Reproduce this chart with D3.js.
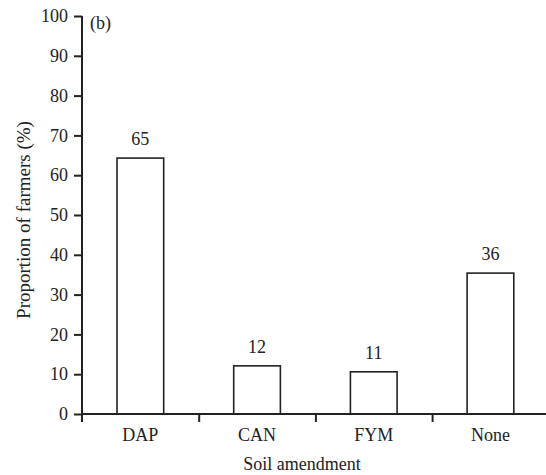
<!DOCTYPE html>
<html>
<head>
<meta charset="utf-8">
<script src="https://cdn.jsdelivr.net/npm/d3@7"></script>
<style>
  body { margin: 0; background: #fff; }
  svg text { font-family: "Times New Roman", "Liberation Serif", "DejaVu Serif", serif; fill: #222; }
</style>
</head>
<body>
<div id="chart"></div>
<script>
// soil amendment usage, panel (b)
const categories = ["DAP", "CAN", "FYM", "None"];
const values = [64.3, 12.1, 10.6, 35.4];
const labels = ["65", "12", "11", "36"];
const yTicks = [0, 10, 20, 30, 40, 50, 60, 70, 80, 90, 100];

const width = 546, height = 475;
const margin = { left: 82, top: 16, bottom: 61 };
const plotRight = margin.left + 4 * 116.7;
const serif = '"Times New Roman", "Liberation Serif", "DejaVu Serif", serif';
const fs = 18;

let svg = d3.select('#chart').append('svg')
  .attr('width', width)
  .attr('height', height)
  .attr('font-family', serif);

let y = d3.scaleLinear()
  .domain([0, 100])
  .range([height - margin.bottom, margin.top]);

let x = d3.scaleBand()
  .domain(categories)
  .range([margin.left, plotRight])
  .paddingInner(0.6)
  .paddingOuter(0.3);

// boundary ticks between categories
let xb = d3.scaleLinear()
  .domain([0, 4])
  .range([margin.left, plotRight]);

// bars
svg.selectAll('.bar')
  .data(values)
  .enter()
  .append('rect')
  .attr('x', (d, i) => x(categories[i]))
  .attr('y', d => y(d))
  .attr('width', x.bandwidth())
  .attr('height', d => y(0) - y(d))
  .attr('fill', '#fff')
  .attr('stroke', '#222')
  .attr('stroke-width', 1.6);

svg.selectAll('.val')
  .data(values)
  .enter()
  .append('text')
  .attr('x', (d, i) => x(categories[i]) + x.bandwidth() / 2)
  .attr('y', d => y(d) - 13)
  .attr('text-anchor', 'middle')
  .attr('font-size', fs)
  .text((d, i) => labels[i]);

// y axis
let yAxis = svg.append('g')
  .attr('transform', `translate(${margin.left},0)`)
  .call(d3.axisLeft(y).tickValues(yTicks).tickSize(8).tickSizeOuter(0).tickPadding(6));
yAxis.attr('font-family', serif).attr('font-size', fs);
yAxis.select('.domain').remove();
yAxis.append('line')
  .attr('x1', 0).attr('x2', 0)
  .attr('y1', y(100)).attr('y2', y(0) + 8)
  .attr('stroke', '#222').attr('stroke-width', 2);
yAxis.selectAll('.tick line').attr('stroke', '#222').attr('stroke-width', 2);
yAxis.selectAll('.tick text').attr('fill', '#222');

// x axis
let xAxis = svg.append('g')
  .attr('transform', `translate(0,${y(0)})`)
  .call(d3.axisBottom(xb).tickValues([1, 2, 3]).tickSize(8).tickSizeOuter(0).tickFormat(''));
xAxis.select('.domain').remove();
xAxis.append('line')
  .attr('x1', margin.left).attr('x2', width)
  .attr('y1', 0).attr('y2', 0)
  .attr('stroke', '#222').attr('stroke-width', 2);
xAxis.selectAll('.tick line').attr('stroke', '#222').attr('stroke-width', 2);

svg.selectAll('.xlab')
  .data(categories)
  .enter()
  .append('text')
  .attr('x', d => x(d) + x.bandwidth() / 2)
  .attr('y', y(0) + 27)
  .attr('text-anchor', 'middle')
  .attr('font-size', fs)
  .text(d => d);

// axis titles
svg.append('text')
  .attr('x', 302)
  .attr('y', 470)
  .attr('text-anchor', 'middle')
  .attr('font-size', fs)
  .text('Soil amendment');

svg.append('text')
  .attr('transform', 'translate(30,220) rotate(-90)')
  .attr('text-anchor', 'middle')
  .attr('font-size', 19)
  .text('Proportion of farmers (%)');

svg.append('text')
  .attr('x', 90)
  .attr('y', 29)
  .attr('font-size', fs)
  .text('(b)');
</script>
</body>
</html>
